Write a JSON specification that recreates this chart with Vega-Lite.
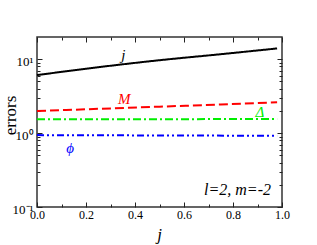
{
  "$schema": "https://vega.github.io/schema/vega-lite/v6.json",
  "autosize": {"type": "none"},
  "padding": {"left": 37, "top": 37, "right": 35, "bottom": 38},
  "width": 245,
  "height": 170,
  "background": "white",
  "config": {
    "font": "Liberation Serif, Times New Roman, serif",
    "view": {"stroke": "#333", "strokeWidth": 1.5},
    "axis": {"grid": false, "domain": false, "tickColor": "#222", "tickWidth": 1, "labelFont": "Liberation Serif, Times New Roman, serif", "titleFont": "Liberation Serif, Times New Roman, serif", "labelColor": "black", "titleColor": "black", "titleFontWeight": "normal", "labelFlush": false},
    "text": {"font": "Liberation Serif, Times New Roman, serif", "fontStyle": "italic"}
  },
  "datasets": {
    "lines": [
      {"s": "j", "x": 0, "y": 6.1},
      {"s": "j", "x": 0.25, "y": 7.8},
      {"s": "j", "x": 0.5, "y": 9.7},
      {"s": "j", "x": 0.75, "y": 11.7},
      {"s": "j", "x": 0.98, "y": 14.0},
      {"s": "M", "x": 0, "y": 1.99},
      {"s": "M", "x": 0.25, "y": 2.13},
      {"s": "M", "x": 0.5, "y": 2.28},
      {"s": "M", "x": 0.75, "y": 2.44},
      {"s": "M", "x": 0.98, "y": 2.61},
      {"s": "D", "x": 0, "y": 1.54},
      {"s": "D", "x": 0.98, "y": 1.55},
      {"s": "phi", "x": 0, "y": 0.94},
      {"s": "phi", "x": 0.98, "y": 0.92}
    ],
    "labels": [
      {"s": "j", "t": "j", "x": 0.352, "y": 11.4},
      {"s": "M", "t": "M", "x": 0.356, "y": 2.89},
      {"s": "D", "t": "Δ", "x": 0.91, "y": 1.95},
      {"s": "phi", "t": "ϕ", "x": 0.135, "y": 0.62}
    ],
    "note": [{"t": "l=2, m=-2", "x": 0.955, "y": 0.17}]
  },
  "layer": [
    {
      "data": {"name": "lines"},
      "mark": {"type": "line", "strokeWidth": 2, "interpolate": "monotone"},
      "encoding": {
        "x": {"field": "x", "type": "quantitative", "scale": {"domain": [0, 1], "nice": false},
          "axis": {"orient": "bottom", "values": [0, 0.2, 0.4, 0.6, 0.8, 1], "format": ".1f", "ticks": false, "labelPadding": 2, "labelFontSize": 12, "labelFont": "Liberation Serif, Times New Roman, serif", "title": "j", "titleFontSize": 17, "titleFontStyle": "italic", "titleBaseline": "alphabetic", "titleY": 32, "titleX": 122}},
        "y": {"field": "y", "type": "quantitative", "scale": {"type": "log", "domain": [0.1, 20], "nice": false},
          "axis": {"orient": "left", "values": [0.1, 1, 10], "labelExpr": "datum.value < 0.5 ? '10⁻¹' : datum.value < 5 ? '10⁰' : '10¹'", "ticks": false, "labelPadding": 4, "labelOffset": 2, "labelBaseline": "middle", "labelFontSize": 13, "labelFont": "Liberation Serif, Times New Roman, serif", "title": "errors", "titleFontSize": 17, "titleBaseline": "alphabetic", "titleAngle": -90, "titleX": -22, "titleY": 78}},
        "color": {"field": "s", "type": "nominal", "scale": {"domain": ["j", "M", "D", "phi"], "range": ["black", "#ff0000", "#00ee00", "#0000ff"]}, "legend": null},
        "strokeDash": {"field": "s", "type": "nominal", "scale": {"domain": ["j", "M", "D", "phi"], "range": [[1, 0], [9, 4], [8, 3, 2, 3], [7, 3, 2, 3, 2, 3]]}, "legend": null}
      }
    },
    {
      "data": {"name": "lines"},
      "mark": {"type": "point", "opacity": 0},
      "encoding": {
        "x": {"field": "x", "type": "quantitative", "axis": {"orient": "bottom", "values": [0, 0.2, 0.4, 0.6, 0.8, 1], "labels": false, "tickSize": 5, "offset": -5, "title": null}},
        "y": {"field": "y", "type": "quantitative", "axis": {"orient": "left", "values": [0.1, 1, 10], "labels": false, "tickSize": 5, "offset": -5, "title": null}}
      }
    },
    {
      "data": {"name": "lines"},
      "mark": {"type": "point", "opacity": 0},
      "encoding": {
        "x": {"field": "x", "type": "quantitative", "axis": {"orient": "bottom", "values": [0.1, 0.3, 0.5, 0.7, 0.9], "labels": false, "tickSize": 3, "offset": -3, "title": null}},
        "y": {"field": "y", "type": "quantitative", "axis": {"orient": "left", "values": [0.2, 0.3, 0.4, 0.5, 0.6, 0.7, 0.8, 0.9, 2, 3, 4, 5, 6, 7, 8, 9], "labels": false, "tickSize": 3, "offset": -3, "title": null}}
      }
    },
    {
      "data": {"name": "lines"},
      "mark": {"type": "point", "opacity": 0},
      "encoding": {
        "x": {"field": "x", "type": "quantitative", "axis": {"orient": "top", "values": [0, 0.2, 0.4, 0.6, 0.8, 1], "labels": false, "tickSize": 5, "offset": -5, "title": null}},
        "y": {"field": "y", "type": "quantitative", "axis": {"orient": "right", "values": [0.1, 1, 10], "labels": false, "tickSize": 5, "offset": -5, "title": null}}
      }
    },
    {
      "data": {"name": "lines"},
      "mark": {"type": "point", "opacity": 0},
      "encoding": {
        "x": {"field": "x", "type": "quantitative", "axis": {"orient": "top", "values": [0.1, 0.3, 0.5, 0.7, 0.9], "labels": false, "tickSize": 3, "offset": -3, "title": null}},
        "y": {"field": "y", "type": "quantitative", "axis": {"orient": "right", "values": [0.2, 0.3, 0.4, 0.5, 0.6, 0.7, 0.8, 0.9, 2, 3, 4, 5, 6, 7, 8, 9], "labels": false, "tickSize": 3, "offset": -3, "title": null}}
      }
    },
    {
      "data": {"name": "labels"},
      "mark": {"type": "text", "fontSize": 15, "baseline": "middle", "align": "center"},
      "encoding": {
        "x": {"field": "x", "type": "quantitative", "axis": null},
        "y": {"field": "y", "type": "quantitative", "axis": null},
        "text": {"field": "t"},
        "color": {"field": "s", "type": "nominal", "legend": null}
      }
    },
    {
      "data": {"name": "note"},
      "mark": {"type": "text", "fontSize": 16, "baseline": "middle", "align": "right", "color": "black"},
      "encoding": {
        "x": {"field": "x", "type": "quantitative", "axis": null},
        "y": {"field": "y", "type": "quantitative", "axis": null},
        "text": {"field": "t"}
      }
    }
  ],
  "resolve": {"axis": {"x": "independent", "y": "independent"}}
}
